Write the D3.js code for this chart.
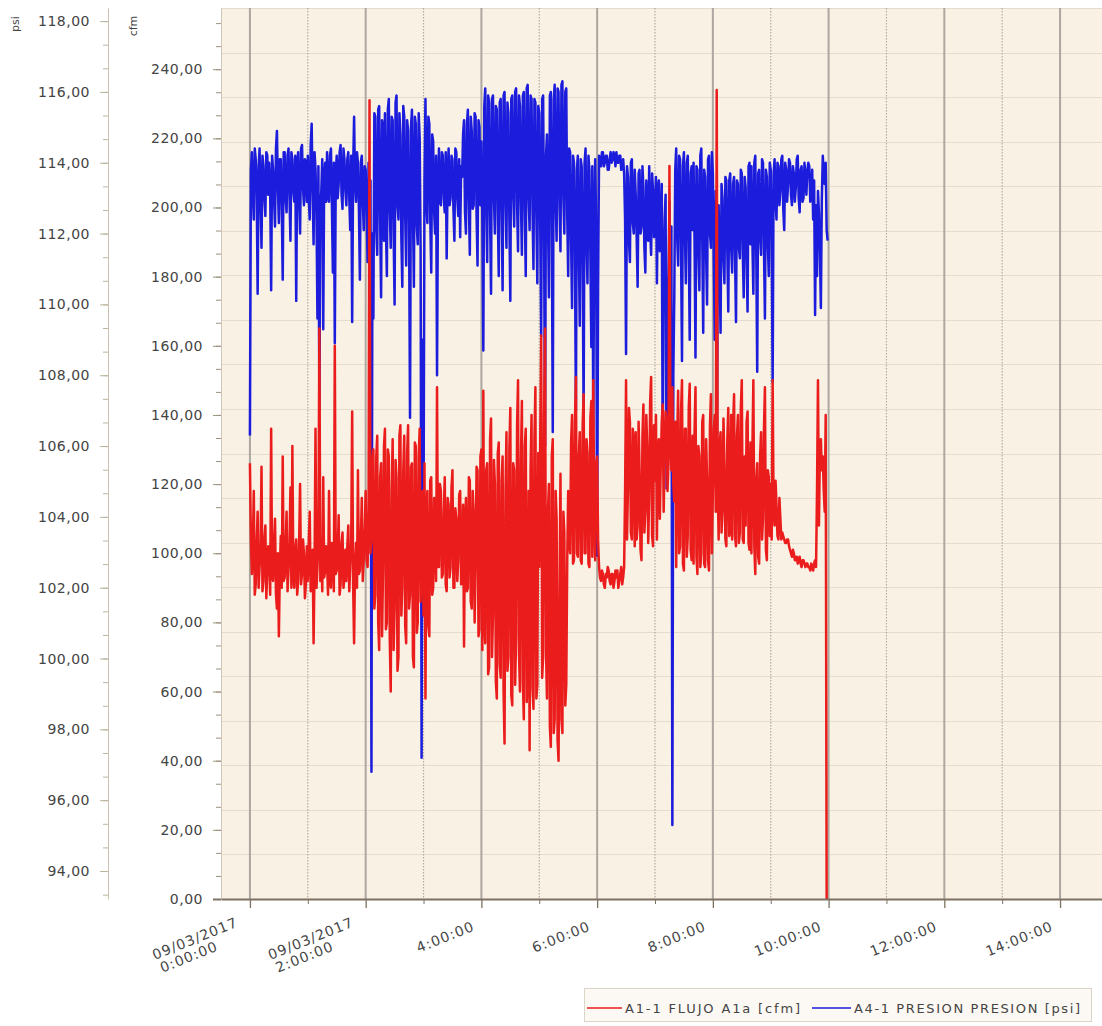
<!DOCTYPE html>
<html><head><meta charset="utf-8">
<script src="https://cdn.jsdelivr.net/npm/d3@7"></script>
<style>
body{margin:0;background:#fff}
svg{display:block}
text{font-family:"DejaVu Sans",Verdana,sans-serif;fill:#444}
</style>
</head><body>
<svg id="chart" width="1102" height="1026"></svg>
<script>
// ---------- DATA ----------
const startTime = new Date(2017, 2, 9, 0, 0, 0);
const sampleStepMinutes = 1;

// A4-1 PRESION PRESION [psi], one reading per minute from 0:00:00
const psiValues = [
106.3,113.8,114.3,113.1,112.4,114.4,114.1,113.2,110.3,113.9,114.4,112.9,111.6,114.2,113.9,113.0,112.5,114.3,114.2,113.1,
114.0,113.2,110.4,114.2,113.8,113.0,112.2,114.4,114.9,113.3,112.3,114.1,114.1,112.8,110.7,114.3,114.3,113.0,112.6,114.2,
114.4,113.1,111.8,114.3,114.1,113.2,112.9,114.2,110.1,113.9,114.3,113.0,112.0,114.4,114.5,113.3,112.8,114.1,114.0,112.9,
114.2,113.0,112.4,114.5,115.1,113.2,111.7,114.3,113.8,112.6,109.6,113.9,107.0,112.8,113.2,114.1,109.3,113.6,114.0,112.9,
114.3,113.1,112.9,114.2,114.4,112.8,110.9,114.0,108.9,113.7,114.2,113.0,113.4,114.3,114.5,113.1,112.7,114.4,114.1,113.2,
112.8,114.1,114.3,113.0,112.1,114.2,109.5,113.8,115.3,113.4,112.9,114.3,114.0,112.7,110.7,114.0,114.2,113.0,112.1,113.9,
113.8,112.6,111.2,114.0,112.9,113.5,96.8,112.0,109.6,115.4,115.3,112.1,111.4,115.5,115.6,112.4,110.2,115.2,115.0,111.8,
115.4,112.2,110.8,115.5,115.8,112.6,111.6,115.3,115.2,112.0,110.0,115.7,115.9,112.8,112.4,115.4,114.8,111.9,110.5,115.6,
115.3,112.5,111.1,115.2,114.9,112.3,106.8,115.0,115.5,112.7,110.5,115.3,115.1,112.2,111.7,115.4,114.7,111.5,97.2,109.0,
104.0,113.5,115.8,112.9,112.3,115.3,115.1,112.4,110.9,114.8,114.6,112.6,112.0,114.2,108.0,113.2,114.4,112.9,112.8,114.3,
114.2,113.0,112.6,114.3,111.3,113.6,114.4,112.8,113.0,114.2,114.1,112.7,111.8,114.4,114.3,113.0,112.5,114.1,111.9,113.9,
113.6,114.8,115.2,112.6,112.0,115.1,115.5,112.9,111.4,115.3,114.9,112.7,112.8,115.4,115.3,112.5,111.1,115.2,115.0,112.8,
114.6,112.4,108.7,115.6,116.1,112.8,111.2,115.9,115.7,112.5,110.3,115.8,115.9,113.0,112.0,115.6,115.5,112.6,110.8,115.7,
115.8,112.7,110.4,115.9,116.0,112.9,111.6,115.7,115.4,112.4,110.1,115.8,115.9,113.1,112.2,116.0,116.1,112.8,111.5,115.9,
115.6,112.9,111.4,115.9,116.0,112.6,110.8,116.1,116.2,113.0,112.1,115.9,115.8,112.7,111.0,115.8,115.7,112.5,110.6,115.6,
115.4,112.3,109.1,115.8,115.9,112.0,106.0,114.2,114.8,112.6,110.2,115.9,116.0,112.4,106.4,115.8,116.2,112.9,111.8,116.1,
116.0,112.8,111.5,116.2,116.3,113.0,112.0,116.0,116.1,112.5,110.8,114.4,114.3,111.8,109.9,114.2,114.0,111.5,107.0,113.8,
114.2,111.6,109.4,114.1,113.9,111.2,106.9,114.0,114.4,111.7,110.6,114.2,113.8,111.4,108.8,113.9,106.5,112.0,114.1,112.3,
102.9,110.5,114.2,114.0,113.9,114.3,114.3,113.9,114.0,114.2,114.2,113.8,113.8,114.1,114.3,114.0,114.1,114.3,114.2,113.9,
114.3,114.0,114.0,114.2,114.2,113.8,113.9,114.1,113.7,112.4,108.6,113.9,113.6,111.8,111.2,114.0,114.1,112.3,112.0,113.8,
113.1,111.9,110.5,113.7,113.8,112.0,112.2,113.9,113.3,111.6,110.9,113.5,112.6,111.8,113.9,112.1,111.4,113.7,113.2,111.9,
112.8,113.6,110.6,113.2,113.5,111.5,111.9,113.4,105.5,111.0,112.4,113.1,104.8,110.5,110.8,112.9,108.7,112.2,95.3,108.0,
110.2,113.8,114.4,111.9,111.1,114.2,114.1,111.6,108.4,113.9,114.3,112.0,110.6,114.0,114.2,111.8,109.0,113.7,113.9,112.1,
114.0,111.8,108.5,113.9,113.8,111.5,110.4,114.2,114.4,111.9,109.2,113.8,113.6,111.4,110.0,114.1,114.2,112.0,111.6,114.3,
113.7,111.2,109.0,113.2,104.5,110.8,112.8,111.0,109.2,113.4,113.0,111.3,110.6,113.6,113.5,111.5,109.8,113.5,113.7,111.6,
110.9,113.4,113.6,111.4,109.5,113.5,113.4,111.6,111.3,113.8,113.7,111.5,110.2,113.6,113.3,111.2,109.8,113.9,114.0,111.7,
113.9,111.8,110.3,114.0,114.2,111.5,108.1,113.7,113.8,111.9,111.4,114.1,114.0,111.6,109.6,113.8,113.6,111.7,110.8,114.0,
113.8,111.9,107.8,113.7,114.1,112.9,112.4,114.0,113.9,112.8,113.2,114.1,114.2,112.7,112.1,114.0,113.8,112.9,113.4,114.1,
114.0,113.1,112.8,113.9,113.7,112.9,113.3,114.1,114.2,113.0,112.6,113.8,113.9,112.9,113.0,114.0,113.6,113.1,113.8,114.0,
113.9,112.9,113.2,113.8,112.4,113.5,109.7,112.8,110.8,113.2,112.6,111.5,109.9,113.0,114.2,113.6,113.4,114.0,112.1,111.8
];

// A1-1 FLUJO A1a [cfm], one reading per minute from 0:00:00
const cfmValues = [
126,104,94,102,118,88,91,103,112,90,96,101,125,89,92,104,108,87,95,102,
98,88,136,93,92,103,110,88,84,100,76,95,105,90,128,92,93,102,112,89,
95,102,119,90,131,94,90,101,104,88,92,103,120,91,94,104,100,87,91,102,
92,103,112,89,98,101,74,96,136,90,96,104,165,92,104,89,122,93,95,102,
97,88,118,92,90,103,102,89,160,94,95,101,111,88,91,103,106,90,93,101,
92,102,108,89,96,103,141,91,74,97,103,90,124,94,95,104,116,92,98,106,
118,98,96,112,231,100,104,126,130,84,88,128,134,80,72,122,126,76,95,131,
136,78,80,130,128,75,60,118,133,72,84,127,122,66,70,134,137,82,90,124,
134,79,74,129,137,84,88,125,126,70,67,132,131,77,80,128,136,86,95,118,
82,126,58,112,118,79,76,121,122,88,90,116,104,92,148,96,96,120,118,93,
94,112,122,91,89,116,114,93,96,119,124,90,90,113,110,92,98,117,118,91,
92,114,73,108,116,89,90,122,121,86,84,118,112,80,96,125,124,76,78,128,
130,72,147,81,74,124,126,65,67,133,139,70,82,127,120,63,58,129,132,68,
64,121,128,60,45,118,135,66,70,130,142,59,56,126,124,62,76,137,150,71,
60,127,144,63,52,131,136,57,66,118,43,124,140,61,55,133,148,58,62,129,
96,132,163,64,70,140,165,72,58,112,120,50,44,128,133,48,52,118,110,46,
40,88,123,52,48,112,106,56,62,98,118,104,100,132,140,97,98,138,151,100,
99,128,135,98,97,137,146,100,100,133,129,97,96,139,144,99,150,112,98,126,
128,104,96,93,92,95,94,91,90,94,93,96,95,92,91,94,94,90,92,95,
93,95,90,92,94,96,91,93,96,118,150,104,119,142,138,106,104,136,131,102,
135,104,108,138,124,101,98,134,143,106,112,140,130,103,117,144,151,105,102,137,
121,140,104,128,133,110,126,138,143,112,128,141,138,118,126,212,134,124,148,120,
115,138,96,132,147,100,102,141,150,97,95,136,136,99,105,142,149,101,98,134,
97,135,148,99,94,131,128,96,100,138,140,97,96,133,122,98,95,137,146,100,
118,136,140,112,234,120,104,131,135,106,112,139,126,104,102,133,142,105,106,140,
104,137,146,105,102,134,140,103,106,142,150,104,103,128,108,138,141,103,101,132,
100,130,150,102,94,121,126,99,97,128,135,104,110,136,148,101,98,124,122,105,
120,104,150,112,108,121,114,105,104,116,110,104,106,105,104,103,103,104,104,102,
101,100,99,101,100,98,98,99,97,98,99,97,96,98,98,97,96,97,97,96,
96,95,97,96,95,97,98,96,118,150,108,130,133,124,128,118,112,140,0
];

const psiTickValues = [94,96,98,100,102,104,106,108,110,112,114,116,118];
const cfmTickValues = [0,20,40,60,80,100,120,140,160,180,200,220,240];
const hourTicks = [0,1,2,3,4,5,6,7,8,9,10,11,12,13,14];
const majorHourLabels = [
  ["09/03/2017","0:00:00"], ["09/03/2017","2:00:00"], ["4:00:00"], ["6:00:00"],
  ["8:00:00"], ["10:00:00"], ["12:00:00"], ["14:00:00"]
];
const seriesNames = ["A1-1 FLUJO A1a [cfm]", "A4-1 PRESION PRESION [psi]"];
const seriesColors = ["#ea1c1c", "#1c1cdc"];

// ---------- LAYOUT ----------
const P = {left:221, right:1102, top:8, bottom:899};
const svg = d3.select("#chart");
const minutes = m => new Date(startTime.getTime() + m*60000);
const hourDate = h => minutes(h*60);

const x = d3.scaleTime()
  .domain([new Date(2017,2,8,23,30,0), new Date(2017,2,9,14,43,30)])
  .range([P.left, P.right]);
const yCfm = d3.scaleLinear().domain([0, 257.7]).range([P.bottom, P.top]);
const yPsi = d3.scaleLinear().domain([93.21, 118.37]).range([P.bottom, P.top]);

const fmt = d => d.toFixed(2).replace(".", ",");

// plot background
svg.append("rect").attr("x",P.left).attr("y",P.top)
  .attr("width",P.right-P.left).attr("height",P.bottom-P.top)
  .attr("fill","#faf1e5");

// horizontal grid (20 equal divisions)
const gridVals = d3.range(0,21).map(i => 257.7*i/20);
svg.append("g").selectAll("line").data(gridVals).join("line")
  .attr("x1",P.left).attr("x2",P.right)
  .attr("y1",d=>Math.round(yCfm(d))+0.5).attr("y2",d=>Math.round(yCfm(d))+0.5)
  .attr("stroke","#e6dccb").attr("stroke-width",1);

// vertical grid
const vg = svg.append("g");
hourTicks.forEach(h => {
  const xx = x(hourDate(h));
  if (h % 2 === 0) {
    vg.append("line").attr("x1",xx).attr("x2",xx).attr("y1",P.top).attr("y2",P.bottom)
      .attr("stroke","#aca79f").attr("stroke-width",2);
  } else {
    vg.append("line").attr("x1",xx).attr("x2",xx).attr("y1",P.top).attr("y2",P.bottom)
      .attr("stroke","#b3aca2").attr("stroke-width",1.2).attr("stroke-dasharray","1.5,1.5");
  }
});

// series
const lineG = svg.append("g");
const psiLine = d3.line()
  .x((d,i) => x(minutes(i*sampleStepMinutes)))
  .y(d => yPsi(d));
const cfmLine = d3.line()
  .x((d,i) => x(minutes(i*sampleStepMinutes)))
  .y(d => yCfm(d));
lineG.append("path").datum(psiValues).attr("d",psiLine)
  .attr("fill","none").attr("stroke",seriesColors[1]).attr("stroke-width",2.5)
  .attr("stroke-linejoin","round");
lineG.append("path").datum(cfmValues).attr("d",cfmLine)
  .attr("fill","none").attr("stroke",seriesColors[0]).attr("stroke-width",2.5)
  .attr("stroke-linejoin","round");

// ---------- AXES ----------
function styleAxis(g, color){
  g.selectAll("path.domain").attr("stroke",color);
  g.selectAll(".tick line").attr("stroke",color);
  g.selectAll("text").attr("font-size",14).attr("fill","#444")
    .style("letter-spacing","0.5px");
}

// psi axis
const psiMinor = d3.range(93+1/3, 118.5, 2/3).filter(v => v >= 93.21 && v <= 118.37);
const gPsiMinor = svg.append("g").attr("transform","translate(108,0)")
  .call(d3.axisLeft(yPsi).tickValues(psiMinor).tickSize(5).tickSizeOuter(0).tickFormat(""));
styleAxis(gPsiMinor, "#bdb39f");
gPsiMinor.select("path.domain").attr("stroke","#c9c0ae");
const gPsi = svg.append("g").attr("transform","translate(108,0)")
  .call(d3.axisLeft(yPsi).tickValues(psiTickValues).tickSize(8).tickPadding(10).tickSizeOuter(0).tickFormat(fmt));
styleAxis(gPsi, "#bdb39f");
gPsi.select("path.domain").remove();

// cfm axis
const cfmMinor = d3.range(20/3, 257.7, 20/3);
const gCfmMinor = svg.append("g").attr("transform",`translate(${P.left},0)`)
  .call(d3.axisLeft(yCfm).tickValues(cfmMinor).tickSize(5).tickSizeOuter(0).tickFormat(""));
styleAxis(gCfmMinor, "#9d927f");
gCfmMinor.select("path.domain").attr("stroke","#cfc6b5");
const gCfm = svg.append("g").attr("transform",`translate(${P.left},0)`)
  .call(d3.axisLeft(yCfm).tickValues(cfmTickValues).tickSize(8).tickPadding(10).tickSizeOuter(0).tickFormat(fmt));
styleAxis(gCfm, "#9d927f");
gCfm.select("path.domain").remove();
gCfm.selectAll(".tick").filter(d => d === 0).select("line").attr("stroke","#7d7262").attr("stroke-width",2);

// x axis
const majorDates = hourTicks.filter(h => h%2===0).map(hourDate);
const minorDates = hourTicks.filter(h => h%2===1).map(hourDate);
const gxMinor = svg.append("g").attr("transform",`translate(0,${P.bottom})`)
  .call(d3.axisBottom(x).tickValues(minorDates).tickSize(5).tickSizeOuter(0).tickFormat(""));
styleAxis(gxMinor, "#7d7262");
gxMinor.select("path.domain").attr("stroke-width",2);
const gx = svg.append("g").attr("transform",`translate(0,${P.bottom})`)
  .call(d3.axisBottom(x).tickValues(majorDates).tickSize(9).tickSizeOuter(0).tickFormat(""));
styleAxis(gx, "#7d7262");
gx.select("path.domain").remove();
gx.selectAll(".tick line").attr("stroke-width",1.3);

// x tick labels (rotated)
const xl = svg.append("g");
majorDates.forEach((d,i) => {
  const xx = x(d);
  const lines = majorHourLabels[i];
  const place = lines.length === 2
    ? [[xx-11, 926],[xx-31, 950]]
    : [[xx-6, 930]];
  lines.forEach((s,j) => {
    xl.append("text").attr("transform",`translate(${place[j][0]},${place[j][1]}) rotate(-22)`)
      .attr("text-anchor","end").attr("font-size",14).style("letter-spacing","1px")
      .text(s);
  });
});

// axis titles
svg.append("text").attr("transform","translate(19,24) rotate(-90)")
  .attr("text-anchor","middle").attr("font-size",11).attr("fill","#555").text("psi");
svg.append("text").attr("transform","translate(137,26) rotate(-90)")
  .attr("text-anchor","middle").attr("font-size",11).attr("fill","#555").text("cfm");

// ---------- LEGEND ----------
const lg = svg.append("g");
lg.append("rect").attr("x",584.5).attr("y",988.5).attr("width",507).attr("height",33)
  .attr("fill","#fcf8f3").attr("stroke","#dcd4c7");
const legendItems = [
  {name:seriesNames[0], color:seriesColors[0], x1:587, x2:622, tx:625, tl:175},
  {name:seriesNames[1], color:seriesColors[1], x1:812, x2:851, tx:854, tl:226}
];
legendItems.forEach(it => {
  lg.append("line").attr("x1",it.x1).attr("x2",it.x2).attr("y1",1008).attr("y2",1008)
    .attr("stroke",it.color).attr("stroke-width",1.3);
  lg.append("text").attr("x",it.tx).attr("y",1013).attr("font-size",13)
    .attr("textLength",it.tl).attr("lengthAdjust","spacing").text(it.name);
});
</script>
</body></html>
